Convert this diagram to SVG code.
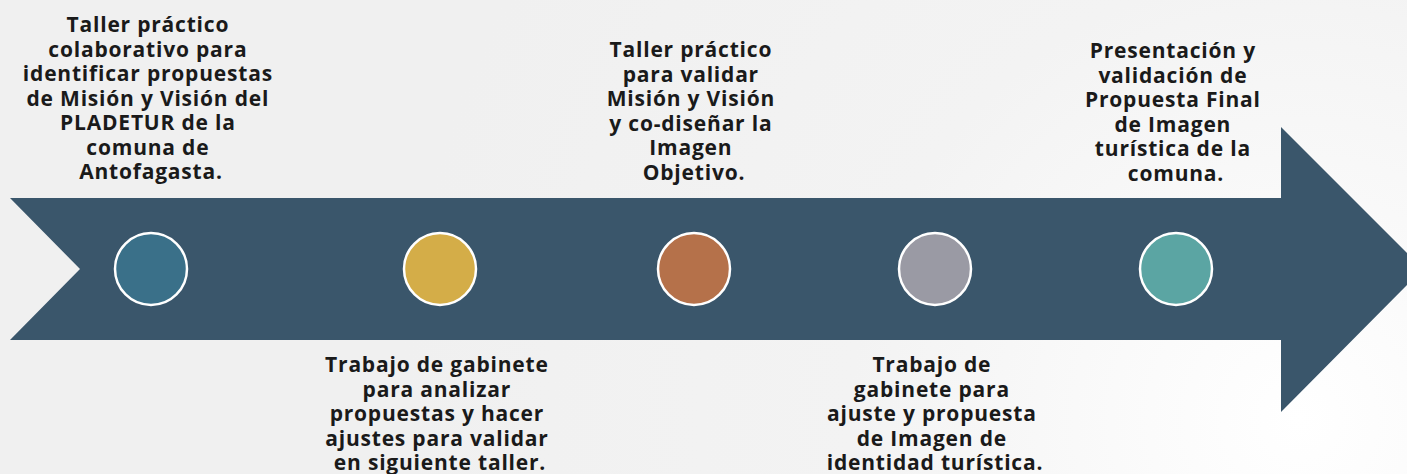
<svg xmlns="http://www.w3.org/2000/svg" width="1407" height="474" viewBox="0 0 1407 474">
  <defs>
    <radialGradient id="bg" cx="1300" cy="420" r="900" gradientUnits="userSpaceOnUse">
      <stop offset="0" stop-color="#ffffff"/>
      <stop offset="0.5" stop-color="#f3f3f3"/>
      <stop offset="1" stop-color="#f0f0f0"/>
    </radialGradient>
  </defs>
  <style>
    .lbl { font-family: "Open Sans", "Liberation Sans", sans-serif; font-weight: 700; font-size: 21px; letter-spacing: 0.8px; fill: #1a1a1a; text-anchor: middle; }
    .dot { stroke: #ffffff; stroke-width: 2.5; }
  </style>
  <rect x="0" y="0" width="1407" height="474" fill="url(#bg)"/>
  <g id="arrow">
    <polygon points="10,198 1281,198 1281,127 1423,269 1281,412 1281,340 10,340 80,269" fill="#3a566b"/>
  </g>
  <g id="connectors"></g>
  <g id="step1">
    <circle class="dot" cx="151" cy="269" r="36" fill="#3a7089"/>
    <text class="lbl">
      <tspan x="151" y="32">Taller práctico</tspan>
      <tspan x="151" y="56.5">colaborativo para</tspan>
      <tspan x="151" y="81">identificar propuestas</tspan>
      <tspan x="151" y="105.5">de Misión y Visión del</tspan>
      <tspan x="151" y="130">PLADETUR de la</tspan>
      <tspan x="151" y="154.5">comuna de</tspan>
      <tspan x="151" y="179">Antofagasta.</tspan>
    </text>
  </g>
  <g id="step2">
    <circle class="dot" cx="440" cy="269" r="36" fill="#d4ad48"/>
    <text class="lbl">
      <tspan x="440" y="372">Trabajo de gabinete</tspan>
      <tspan x="440" y="396.5">para analizar</tspan>
      <tspan x="440" y="421">propuestas y hacer</tspan>
      <tspan x="440" y="445.5">ajustes para validar</tspan>
      <tspan x="440" y="470">en siguiente taller.</tspan>
    </text>
  </g>
  <g id="step3">
    <circle class="dot" cx="694" cy="269" r="36" fill="#b5714a"/>
    <text class="lbl">
      <tspan x="694" y="57">Taller práctico</tspan>
      <tspan x="694" y="81.5">para validar</tspan>
      <tspan x="694" y="106">Misión y Visión</tspan>
      <tspan x="694" y="130.5">y co-diseñar la</tspan>
      <tspan x="694" y="155">Imagen</tspan>
      <tspan x="694" y="179.5">Objetivo.</tspan>
    </text>
  </g>
  <g id="step4">
    <circle class="dot" cx="935" cy="269" r="36" fill="#9a9aa4"/>
    <text class="lbl">
      <tspan x="935" y="372">Trabajo de</tspan>
      <tspan x="935" y="396.5">gabinete para</tspan>
      <tspan x="935" y="421">ajuste y propuesta</tspan>
      <tspan x="935" y="445.5">de Imagen de</tspan>
      <tspan x="935" y="470">identidad turística.</tspan>
    </text>
  </g>
  <g id="step5">
    <circle class="dot" cx="1176" cy="269" r="36" fill="#5ba5a3"/>
    <text class="lbl">
      <tspan x="1176" y="58">Presentación y</tspan>
      <tspan x="1176" y="82.5">validación de</tspan>
      <tspan x="1176" y="107">Propuesta Final</tspan>
      <tspan x="1176" y="131.5">de Imagen</tspan>
      <tspan x="1176" y="156">turística de la</tspan>
      <tspan x="1176" y="180.5">comuna.</tspan>
    </text>
  </g>
</svg>
